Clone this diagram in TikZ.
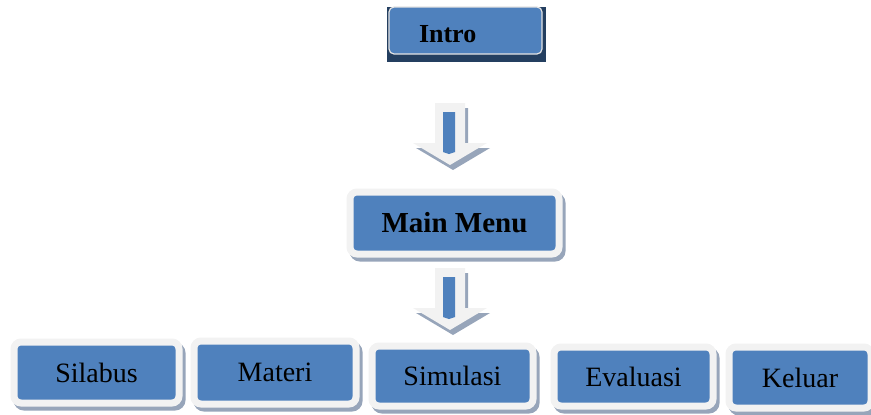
\documentclass[tikz,border=0pt]{standalone}
\usepackage{fontspec}
\setmainfont{Liberation Serif}
\usetikzlibrary{shadows}
\definecolor{boxblue}{HTML}{4F81BD}
\definecolor{boxrim}{HTML}{F2F2F2}
\definecolor{boxshadow}{HTML}{97A5BA}
\definecolor{introdark}{HTML}{243F60}
\definecolor{introrim}{HTML}{E3E3E3}
\begin{document}
\begin{tikzpicture}[x=1pt,y=-1pt,
        menubox/.style={rectangle,rounded corners=7pt,fill=boxblue,draw=boxrim,line width=7pt,
            drop shadow={shadow xshift=3pt,shadow yshift=-4pt,fill=boxshadow,draw=boxshadow,line width=7pt,opacity=1},
            font=\fontsize{28}{32}\selectfont},
        arrowshape/.style={fill=boxrim}]
    \useasboundingbox (0,0) rectangle (871,415);

    % Intro
    \node[fill=introdark,minimum width=159,minimum height=55,inner sep=0] (introbg) at (466.5,34.5) {};
    \node[rectangle,rounded corners=5pt,fill=boxblue,draw=introrim,line width=1.2pt,
        minimum width=153,minimum height=47,text width=93,inner xsep=30,align=left,
        text height=24pt,text depth=0pt,
        font=\fontsize{26}{30}\selectfont\bfseries] (intro) at (465.5,30.5) {Intro};

    % Draw arrows
    \foreach \y in {103,268} {
        \fill[boxshadow,shift={(453,\y+5)}] (-15,0) -- (15,0) -- (15,40) -- (37,40) -- (0,62) -- (-37,40) -- (-15,40) -- cycle;
        \fill[arrowshape,shift={(450,\y)}] (-15,0) -- (15,0) -- (15,40) -- (37,40) -- (0,62) -- (-37,40) -- (-15,40) -- cycle;
        \fill[boxblue,shift={(449,\y)}] (-6,9) -- (6,9) -- (6,49) -- (0,51) -- (-6,49) -- cycle;
    }

    % Draw nodes
    \node[menubox,minimum width=209,minimum height=62,font=\fontsize{29}{33}\selectfont\bfseries] (main) at (454.5,223) {Main Menu};
    \foreach \name/\x/\y/\w/\h/\txt in {silabus/96.5/372.5/165/61/Silabus,
            materi/275/372.5/162/63/Materi,
            simulasi/452.5/376/161/60/Simulasi,
            evaluasi/633.5/376.5/159/59/Evaluasi,
            keluar/800/377.5/142/61/Keluar}
        \node[menubox,minimum width=\w,minimum height=\h] (\name) at (\x,\y) {\txt};
\end{tikzpicture}
\end{document}
